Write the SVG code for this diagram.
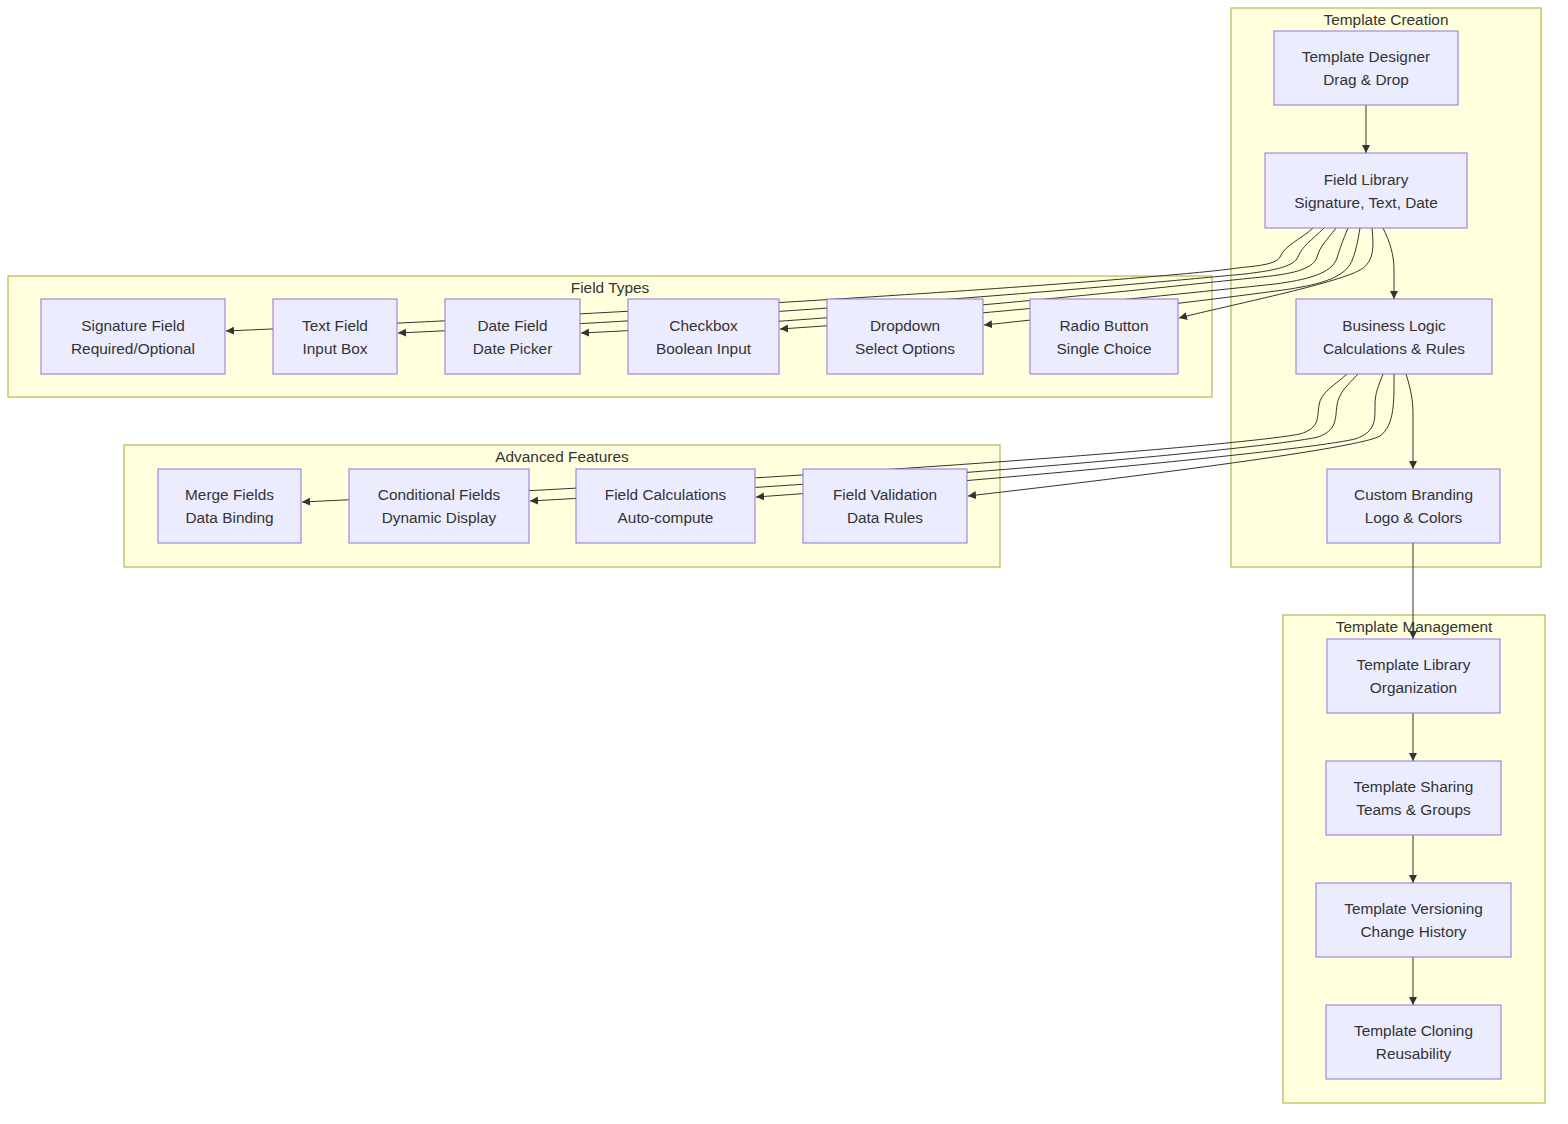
<svg xmlns="http://www.w3.org/2000/svg" width="1568" height="1124" viewBox="0 0 1568 1124">
<style>
.cluster rect{fill:#ffffde;stroke:#aaaa33;stroke-width:1}
.cluster text{fill:#333;font-family:"Liberation Sans",Arial,sans-serif;font-size:15.4px;text-anchor:middle;dominant-baseline:central}
.node rect{fill:#ECECFF;stroke:#9370DB;stroke-width:1}
.node text{fill:#333;font-family:"Liberation Sans",Arial,sans-serif;font-size:15.4px;text-anchor:middle;dominant-baseline:central}
.edges path{fill:none;stroke:#333;stroke-width:1;marker-end:url(#arrow)}
</style>
<defs>
<marker id="arrow" viewBox="0 0 10 10" refX="10" refY="5" markerWidth="8" markerHeight="8" orient="auto" markerUnits="userSpaceOnUse">
<path d="M0,0 L10,5 L0,10 z" fill="#333"/>
</marker>
</defs>
<rect width="1568" height="1124" fill="#fff"/>
<g id="clusters">
<g class="cluster" id="cluster-creation"><rect x="1231" y="8" width="310" height="559"/><text x="1386" y="19">Template Creation</text></g>
<g class="cluster" id="cluster-fieldtypes"><rect x="8" y="276" width="1204" height="121"/><text x="610" y="287">Field Types</text></g>
<g class="cluster" id="cluster-advanced"><rect x="124" y="445" width="876" height="122"/><text x="562" y="456">Advanced Features</text></g>
<g class="cluster" id="cluster-management"><rect x="1283" y="615" width="262" height="488"/><text x="1414" y="626">Template Management</text></g>
</g>
<g class="edges" id="edges">
<path d="M1366,105 L1366,153"/>
<path d="M1383,228 C1390,242 1394,255 1394,270 L1394,299"/>
<path d="M1372,228 C1374,248 1374,262 1360,270 C1335,284 1230,305 1179,318"/>
<path d="M1360,228 C1358,240 1356,250 1353,258 C1347,278 1320,284 1290,289 C1220,299 1080,315 984,325"/>
<path d="M1348,228 C1343,240 1340,248 1337,258 C1332,274 1305,280 1275,284 C1200,292 950,318 780,329"/>
<path d="M1336,228 C1327,240 1320,246 1317,257 C1313,270 1290,274 1262,277 C1200,283 900,318 581,333"/>
<path d="M1324,228 C1312,240 1302,246 1298,257 C1293,268 1268,271 1245,274 C1180,280 850,312 398,333"/>
<path d="M1313,228 C1300,240 1285,245 1280,257 C1275,266 1250,266 1230,269 C1170,277 800,306 226,331"/>
<path d="M1406,374 C1411,390 1413,400 1413,415 L1413,469"/>
<path d="M1394,374 C1394,400 1395,425 1380,436 C1360,448 1150,475 968,496"/>
<path d="M1383,374 C1379,385 1375,392 1375,405 C1375,420 1376,432 1355,439 C1310,450 1000,480 756,497"/>
<path d="M1358,374 C1348,385 1339,392 1337,405 C1335,420 1337,430 1318,437 C1280,446 1000,475 530,501"/>
<path d="M1347,374 C1335,385 1321,392 1319,405 C1317,418 1320,428 1300,434 C1250,444 900,474 302,502"/>
<path d="M1413,543 L1413,639"/>
<path d="M1413,713 L1413,761"/>
<path d="M1413,835 L1413,883"/>
<path d="M1413,957 L1413,1005"/>
</g>
<g class="node" id="templateDesigner"><rect x="1274" y="31" width="184" height="74"/><text x="1366" y="56.5">Template Designer</text><text x="1366" y="79.5">Drag &amp; Drop</text></g>
<g class="node" id="fieldLibrary"><rect x="1265" y="153" width="202" height="75"/><text x="1366" y="179">Field Library</text><text x="1366" y="202">Signature, Text, Date</text></g>
<g class="node" id="businessLogic"><rect x="1296" y="299" width="196" height="75"/><text x="1394" y="325">Business Logic</text><text x="1394" y="348">Calculations &amp; Rules</text></g>
<g class="node" id="customBranding"><rect x="1327" y="469" width="173" height="74"/><text x="1413.5" y="494.5">Custom Branding</text><text x="1413.5" y="517.5">Logo &amp; Colors</text></g>
<g class="node" id="signatureField"><rect x="41" y="299" width="184" height="75"/><text x="133" y="325">Signature Field</text><text x="133" y="348">Required/Optional</text></g>
<g class="node" id="textField"><rect x="273" y="299" width="124" height="75"/><text x="335" y="325">Text Field</text><text x="335" y="348">Input Box</text></g>
<g class="node" id="dateField"><rect x="445" y="299" width="135" height="75"/><text x="512.5" y="325">Date Field</text><text x="512.5" y="348">Date Picker</text></g>
<g class="node" id="checkbox"><rect x="628" y="299" width="151" height="75"/><text x="703.5" y="325">Checkbox</text><text x="703.5" y="348">Boolean Input</text></g>
<g class="node" id="dropdown"><rect x="827" y="299" width="156" height="75"/><text x="905" y="325">Dropdown</text><text x="905" y="348">Select Options</text></g>
<g class="node" id="radioButton"><rect x="1030" y="299" width="148" height="75"/><text x="1104" y="325">Radio Button</text><text x="1104" y="348">Single Choice</text></g>
<g class="node" id="mergeFields"><rect x="158" y="469" width="143" height="74"/><text x="229.5" y="494.5">Merge Fields</text><text x="229.5" y="517.5">Data Binding</text></g>
<g class="node" id="conditionalFields"><rect x="349" y="469" width="180" height="74"/><text x="439" y="494.5">Conditional Fields</text><text x="439" y="517.5">Dynamic Display</text></g>
<g class="node" id="fieldCalculations"><rect x="576" y="469" width="179" height="74"/><text x="665.5" y="494.5">Field Calculations</text><text x="665.5" y="517.5">Auto-compute</text></g>
<g class="node" id="fieldValidation"><rect x="803" y="469" width="164" height="74"/><text x="885" y="494.5">Field Validation</text><text x="885" y="517.5">Data Rules</text></g>
<g class="node" id="templateLibrary"><rect x="1327" y="639" width="173" height="74"/><text x="1413.5" y="664.5">Template Library</text><text x="1413.5" y="687.5">Organization</text></g>
<g class="node" id="templateSharing"><rect x="1326" y="761" width="175" height="74"/><text x="1413.5" y="786.5">Template Sharing</text><text x="1413.5" y="809.5">Teams &amp; Groups</text></g>
<g class="node" id="templateVersioning"><rect x="1316" y="883" width="195" height="74"/><text x="1413.5" y="908.5">Template Versioning</text><text x="1413.5" y="931.5">Change History</text></g>
<g class="node" id="templateCloning"><rect x="1326" y="1005" width="175" height="74"/><text x="1413.5" y="1030.5">Template Cloning</text><text x="1413.5" y="1053.5">Reusability</text></g>
</svg>
